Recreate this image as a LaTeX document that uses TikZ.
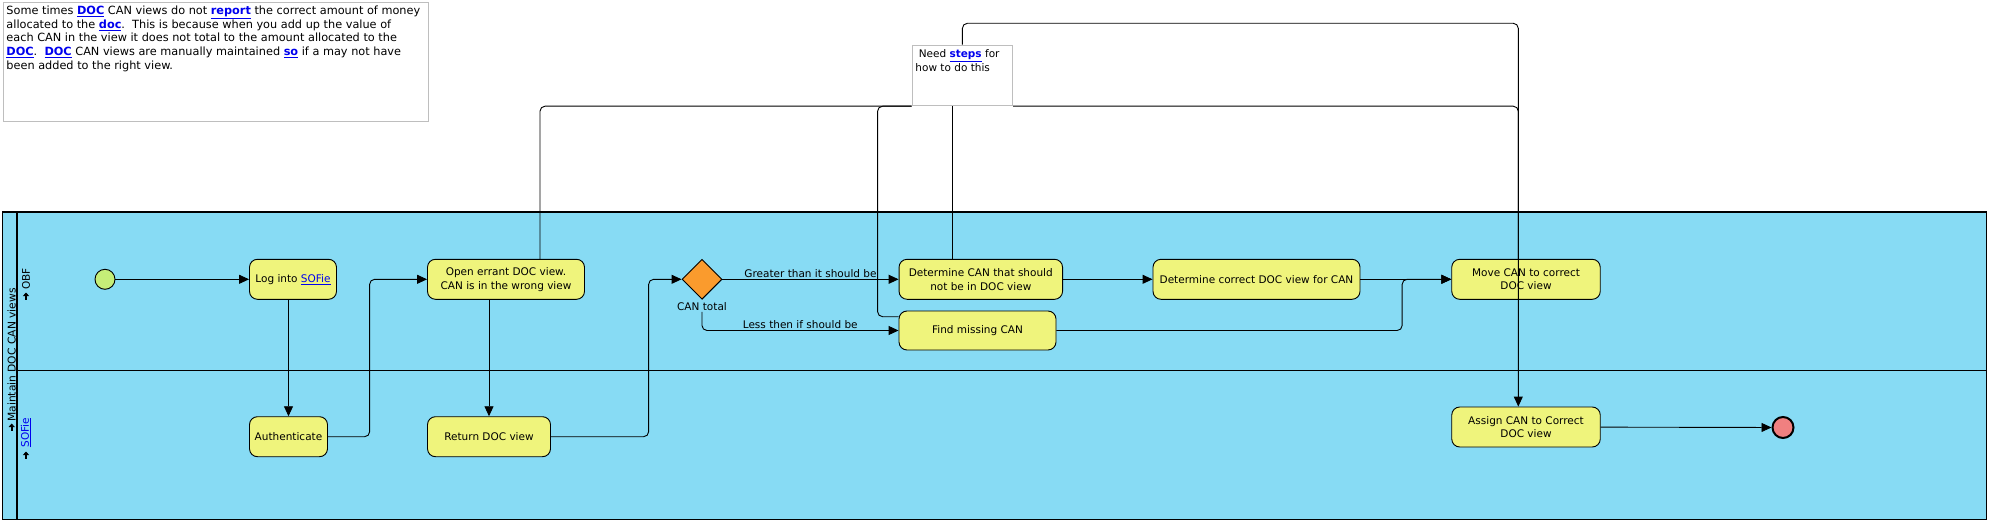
\documentclass[tikz,border=0pt]{standalone}
\usepackage{fontspec}
\setmainfont{DejaVu Sans}
\usepackage{xcolor}
\usepackage{tikz}
\usetikzlibrary{shapes.geometric, arrows, arrows.meta, positioning, calc}
\definecolor{poolblue}{RGB}{135,219,244}
\definecolor{taskyellow}{RGB}{239,244,124}
\definecolor{startgreen}{RGB}{197,238,120}
\definecolor{endred}{RGB}{240,128,128}
\definecolor{gateorange}{RGB}{250,155,45}
\definecolor{linkblue}{RGB}{0,0,238}
\definecolor{notegray}{RGB}{190,190,190}
\newcommand{\lnk}[1]{\textcolor{linkblue}{\underline{#1}}}
\newcommand{\blnk}[1]{\textcolor{linkblue}{\textbf{\underline{#1}}}}
\tikzstyle{task} = [rectangle, rounded corners=8pt, draw=black, fill=taskyellow, minimum height=40pt, align=center, inner sep=0pt, font=\fontsize{10.5}{13.7}\selectfont]
\tikzstyle{event} = [circle, draw=black, minimum size=20pt, inner sep=0pt]
\tikzstyle{arrow} = [->, >={Triangle[length=10pt,width=9pt]}]
\tikzstyle{assoc} = [rounded corners=5pt]
\tikzstyle{lbl} = [inner sep=1pt, font=\fontsize{10.5}{13}\selectfont]
\tikzstyle{lanetag} = [-{Triangle[length=3.5pt,width=6pt]}, line width=1.8pt]

\begin{document}
\begin{tikzpicture}[x=1pt, y=-1pt, line width=0.9pt]
\useasboundingbox (0,0) rectangle (1990,524);

% Description
\node (desc) [draw=notegray, anchor=north west, minimum width=425.5pt, minimum height=118.5pt, inner sep=0pt] at (2.5,2.5) {};
\node (desctext) [anchor=north west, align=left, inner sep=0pt, font=\fontsize{11.3}{13.7}\selectfont] at (6,5.5) {Some times \blnk{DOC} CAN views do not \blnk{report} the correct amount of money\\allocated to the \blnk{doc}.\ \ This is because when you add up the value of\\each CAN in the view it does not total to the amount allocated to the\\\blnk{DOC}.\ \ \blnk{DOC} CAN views are manually maintained \blnk{so} if a may not have\\been added to the right view.};

% Pool and lanes
\draw[fill=poolblue, line width=1.2pt] (2.7,212) rectangle (1986.5,519.5);
\draw[line width=2pt] (16.5,212) -- (16.5,519.5);
\draw (16.5,370) -- (1986.5,370);
\node (pooltitle) [lbl, rotate=90, font=\fontsize{10.7}{12}\selectfont] at (11.7,355) {Maintain DOC CAN views};
\node (obf) [lbl, rotate=90] at (26,279) {OBF};
\node (sofie) [lbl, rotate=90] at (26,432.5) {\lnk{SOFie}};
\foreach \x/\y in {11.7/427, 26/296, 26/455}
  \draw[lanetag] (\x,\y+3.5) -- (\x,\y-3.5);

% Tasks
\node (start) [event, fill=startgreen] at (105,279.3) {};
\node (login) [task, minimum width=87pt] at (293,279.3) {Log into \lnk{SOFie}};
\node (auth) [task, minimum width=78pt] at (288.5,436.7) {Authenticate};
\node (open) [task, minimum width=157pt] at (506,279.3) {Open errant DOC view.\\CAN is in the wrong view};
\node (ret) [task, minimum width=123pt] at (489,436.7) {Return DOC view};
\node (gw) [diamond, draw=black, fill=gateorange, minimum size=40pt, inner sep=0pt] at (702,279.3) {};
\node (gwlabel) [lbl, below=1pt of gw] {CAN total};
\node (detcan) [task, minimum width=163.5pt] at (980.8,279.3) {Determine CAN that should\\not be in DOC view};
\node (find) [task, minimum width=157pt, minimum height=39pt] at (977.5,330.5) {Find missing CAN};
\node (detdoc) [task, minimum width=207pt] at (1256.5,279.3) {Determine correct DOC view for CAN};
\node (move) [task, minimum width=148.5pt] at (1526,279.3) {Move CAN to correct\\DOC view};
\node (assign) [task, minimum width=148.5pt] at (1526,427) {Assign CAN to Correct\\DOC view};
\node (end) [event, fill=endred, line width=2pt, minimum size=21pt] at (1783,427.5) {};

% Note
\node (note) [draw=notegray, fill=white, minimum width=100.7pt, minimum height=60.7pt, inner sep=0pt] at (962.4,75.4) {};
\node (notetext) [anchor=north west, align=left, inner sep=0pt, font=\fontsize{10.5}{13.7}\selectfont] at (915,49) {\ Need \blnk{steps} for\\how to do this};
\coordinate (topbend) at (1518.3,23.3);

% Sequence flows
\draw [arrow] (start) -- (login);
\draw [arrow] (login.south -| auth.north) -- (auth.north);
\draw [arrow, rounded corners=5pt] (auth.east) -- ++(41.7,0) |- (open.west);
\draw [arrow] (open.south -| ret.north) -- (ret.north);
\draw [arrow, rounded corners=5pt] (ret.east) -- ++(97.7,0) |- (gw.west);
\draw [arrow] (gw.east) -- node[lbl, above] {Greater than it should be} (detcan.west);
\draw [arrow, rounded corners=5pt] (gwlabel.south) |- node[lbl, above, pos=0.75] {Less then if should be} (find.west);
\draw [arrow] (detcan) -- (detdoc);
\draw [arrow] (detdoc) -- (move);
\draw [arrow, rounded corners=5pt] (find.east) -- ++(345.7,0) |- (move.west);
\draw [arrow] (assign) -- (end);

% Associations
\draw [assoc] (note.south west) -| ([xshift=34pt]open.north);
\draw [assoc] (note.south west) -- ++(-34,0) |- ([yshift=13.8pt]find.west);
\draw ([xshift=-10pt]note.south) -- ([xshift=-10pt]note.south |- detcan.north);
\draw [assoc] (note.south east) -| ([xshift=-7.7pt]move.north);
\draw [arrow, rounded corners=5pt] (note.north) |- (topbend) -- ([xshift=-7.7pt]assign.north);

\end{tikzpicture}
\end{document}
